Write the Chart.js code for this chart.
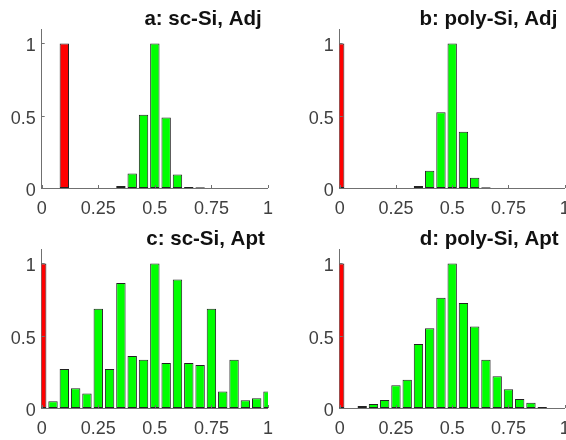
<!DOCTYPE html>
<html><head><meta charset="utf-8">
<script src="https://cdn.jsdelivr.net/npm/chart.js@4"></script>
<style>
html,body{margin:0;padding:0;overflow:hidden;background:#fff;width:566px;height:440px;position:relative;}
.p{position:absolute;}
canvas{display:block;}
</style></head><body>
<div class="p" style="left:0;top:0;"><canvas id="ca" width="283" height="220"></canvas></div>
<div class="p" style="left:283px;top:0;"><canvas id="cb" width="302" height="220"></canvas></div>
<div class="p" style="left:0;top:220px;"><canvas id="cc" width="283" height="220"></canvas></div>
<div class="p" style="left:283px;top:220px;"><canvas id="cd" width="302" height="220"></canvas></div>
<script>
// ---- data ----
const xTicks = [0, 0.25, 0.5, 0.75, 1];
const xTickLabels = ['0', '0.25', '0.5', '0.75', '1'];
const yTicks = [0, 0.5, 1];
const yTickLabels = ['0', '0.5', '1'];
const titles = ['a: sc-Si, Adj', 'b: poly-Si, Adj', 'c: sc-Si, Apt', 'd: poly-Si, Apt'];

const redA_x = [0.1];
const redA_y = [1];
const greenA_x = [0.35, 0.4, 0.45, 0.5, 0.55, 0.6, 0.65, 0.7];
const greenA_y = [0.014, 0.10, 0.506, 1, 0.487, 0.094, 0.007, 0.005];

const redB_x = [0];
const redB_y = [1];
const greenB_x = [0.35, 0.4, 0.45, 0.5, 0.55, 0.6, 0.65];
const greenB_y = [0.014, 0.12, 0.524, 1, 0.39, 0.071, 0.006];

const redC_x = [0];
const redC_y = [1];
const greenC_x = [0.05, 0.1, 0.15, 0.2, 0.25, 0.3, 0.35, 0.4, 0.45, 0.5, 0.55, 0.6, 0.65, 0.7, 0.75, 0.8, 0.85, 0.9, 0.95, 1.0];
const greenC_y = [0.046, 0.27, 0.136, 0.10, 0.686, 0.27, 0.864, 0.36, 0.333, 1, 0.312, 0.889, 0.312, 0.298, 0.686, 0.115, 0.333, 0.053, 0.067, 0.115];

const redD_x = [0];
const redD_y = [1];
const greenD_x = [0.1, 0.15, 0.2, 0.25, 0.3, 0.35, 0.4, 0.45, 0.5, 0.55, 0.6, 0.65, 0.7, 0.75, 0.8, 0.85, 0.9];
const greenD_y = [0.014, 0.028, 0.055, 0.157, 0.196, 0.443, 0.552, 0.762, 1, 0.727, 0.563, 0.333, 0.219, 0.129, 0.062, 0.037, 0.007];

// ---- style ----
const F = '"Liberation Sans", Arial, Helvetica, sans-serif';
const AX = '#707070';
const TC = '#404040';

const tickPlugin = {
  id: 'inTicks',
  afterDraw(chart) {
    const {ctx, chartArea: a, scales: {x, y}} = chart;
    ctx.save();
    ctx.strokeStyle = AX;
    ctx.lineWidth = 1;
    ctx.beginPath();
    x.ticks.forEach(t => {
      const px = Math.round(x.getPixelForValue(t.value)) + 0.5;
      ctx.moveTo(px, a.bottom);
      ctx.lineTo(px, a.bottom - 3);
    });
    y.ticks.forEach(t => {
      const py = Math.round(y.getPixelForValue(t.value)) + 0.5;
      ctx.moveTo(a.left, py);
      ctx.lineTo(a.left + 3, py);
    });
    ctx.stroke();
    ctx.restore();
  }
};

const titlePlugin = {
  id: 'ptitle',
  afterDraw(chart, args, opts) {
    const {ctx, chartArea: a} = chart;
    ctx.save();
    ctx.font = 'bold 20.5px ' + F;
    ctx.fillStyle = '#111111';
    ctx.textAlign = 'center';
    ctx.textBaseline = 'alphabetic';
    ctx.fillText(opts.text, a.left + opts.center * (a.right - a.left), a.top - 4);
    ctx.restore();
  }
};

function makeChart(id, redX, redY, greenX, greenY, title, lay) {
  const pts = (xs, ys) => xs.map((x, i) => ({x: x, y: ys[i]}));
  const ds = (xs, ys, color) => ({
    data: pts(xs, ys),
    backgroundColor: color,
    borderColor: '#222222',
    borderWidth: 1,
    borderSkipped: false,
    grouped: false,
    barPercentage: 0.83,
    categoryPercentage: 1,
    clip: 0
  });
  return new Chart(document.getElementById(id), {
    type: 'bar',
    data: {datasets: [ds(greenX, greenY, '#00ff00'), ds(redX, redY, '#ff0000')]},
    options: {
      responsive: false,
      animation: false,
      devicePixelRatio: 1,
      layout: {padding: {left: 0, right: lay.right, top: 29, bottom: 0}},
      plugins: {
        legend: {display: false},
        tooltip: {enabled: false},
        title: {display: false},
        ptitle: {text: title, center: lay.center}
      },
      scales: {
        x: {
          type: 'linear', min: 0, max: 1, offset: false, z: 1,
          grid: {display: false, drawTicks: false},
          border: {display: true, color: AX, width: 1},
          afterBuildTicks: s => { s.ticks = xTicks.map(v => ({value: v})); },
          afterFit: s => { s.height = 32; },
          ticks: {padding: 10, color: TC, font: {family: F, size: 18}, maxRotation: 0, autoSkip: false,
                  callback: (v, i) => xTickLabels[i]}
        },
        y: {
          type: 'linear', min: 0, max: 1.1, z: 1,
          grid: {display: false, drawTicks: false},
          border: {display: true, color: AX, width: 1},
          afterBuildTicks: s => { s.ticks = yTicks.map(v => ({value: v})); },
          afterFit: s => { s.width = lay.left; },
          ticks: {padding: 6, labelOffset: 3, color: TC, font: {family: F, size: 18}, autoSkip: false,
                  callback: (v, i) => yTickLabels[i]}
        }
      }
    },
    plugins: [tickPlugin, titlePlugin]
  });
}

makeChart('ca', redA_x, redA_y, greenA_x, greenA_y, titles[0], {left: 41.7, right: 15, center: 0.713});
makeChart('cb', redB_x, redB_y, greenB_x, greenB_y, titles[1], {left: 56.7, right: 20.3, center: 0.661});
makeChart('cc', redC_x, redC_y, greenC_x, greenC_y, titles[2], {left: 41.7, right: 15, center: 0.724});
makeChart('cd', redD_x, redD_y, greenD_x, greenD_y, titles[3], {left: 56.7, right: 20.3, center: 0.664});
</script>
</body></html>
